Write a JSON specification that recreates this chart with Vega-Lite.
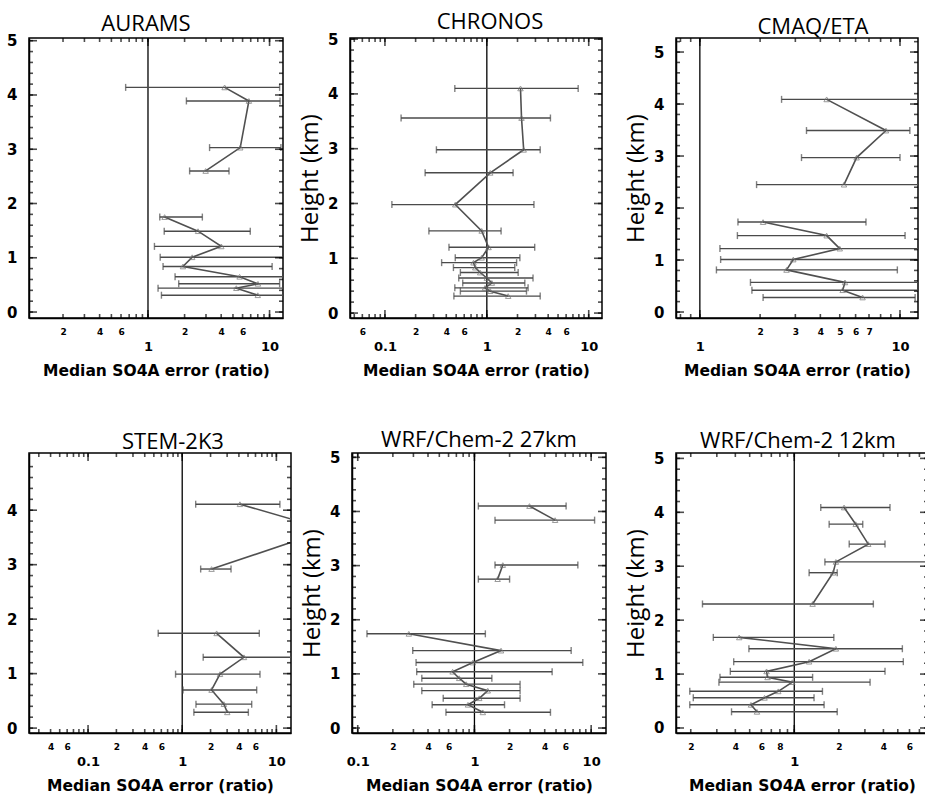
{
  "$schema": "https://vega.github.io/schema/vega-lite/v6.json",
  "padding": {"left": 5, "top": 10, "right": 0, "bottom": 0},
  "background": "white",
  "datasets": {
    "aurams": [
      {"h": 4.14, "med": 4.27, "lo": 0.655, "hi": 12.1, "seg": 1},
      {"h": 3.89, "med": 6.76, "lo": 2.07, "hi": 12.2, "seg": 1},
      {"h": 3.03, "med": 5.74, "lo": 3.21, "hi": 12.4, "seg": 1},
      {"h": 2.60, "med": 2.98, "lo": 2.20, "hi": 4.64, "seg": 1},
      {"h": 1.75, "med": 1.37, "lo": 1.25, "hi": 2.80, "seg": 2},
      {"h": 1.49, "med": 2.58, "lo": 1.36, "hi": 6.94, "seg": 2},
      {"h": 1.21, "med": 4.01, "lo": 1.13, "hi": 14, "seg": 2},
      {"h": 1.01, "med": 2.31, "lo": 1.26, "hi": 14, "seg": 2},
      {"h": 0.84, "med": 1.94, "lo": 1.33, "hi": 10.5, "seg": 2},
      {"h": 0.65, "med": 5.67, "lo": 1.67, "hi": 14, "seg": 2},
      {"h": 0.52, "med": 8.03, "lo": 1.79, "hi": 12.1, "seg": 2},
      {"h": 0.44, "med": 5.33, "lo": 1.21, "hi": 14, "seg": 2},
      {"h": 0.31, "med": 8.0, "lo": 1.29, "hi": 14, "seg": 2}
    ],
    "chronos": [
      {"h": 4.10, "med": 2.14, "lo": 0.485, "hi": 7.88, "seg": 1},
      {"h": 3.56, "med": 2.19, "lo": 0.144, "hi": 4.21, "seg": 1},
      {"h": 2.98, "med": 2.30, "lo": 0.32, "hi": 3.34, "seg": 1},
      {"h": 2.56, "med": 1.08, "lo": 0.248, "hi": 1.81, "seg": 1},
      {"h": 1.98, "med": 0.49, "lo": 0.117, "hi": 2.90, "seg": 1},
      {"h": 1.50, "med": 0.89, "lo": 0.27, "hi": 1.38, "seg": 1},
      {"h": 1.20, "med": 1.04, "lo": 0.425, "hi": 2.95, "seg": 1},
      {"h": 1.01, "med": 0.89, "lo": 0.49, "hi": 2.11, "seg": 1},
      {"h": 0.92, "med": 0.74, "lo": 0.36, "hi": 1.96, "seg": 1},
      {"h": 0.83, "med": 0.77, "lo": 0.47, "hi": 1.88, "seg": 1},
      {"h": 0.74, "med": 0.86, "lo": 0.55, "hi": 2.03, "seg": 1},
      {"h": 0.64, "med": 1.0, "lo": 0.53, "hi": 2.84, "seg": 1},
      {"h": 0.55, "med": 1.12, "lo": 0.58, "hi": 2.36, "seg": 1},
      {"h": 0.46, "med": 0.96, "lo": 0.485, "hi": 2.54, "seg": 1},
      {"h": 0.40, "med": 1.08, "lo": 0.55, "hi": 2.45, "seg": 1},
      {"h": 0.31, "med": 1.62, "lo": 0.475, "hi": 3.34, "seg": 1}
    ],
    "cmaq": [
      {"h": 4.09, "med": 4.30, "lo": 2.56, "hi": 13, "seg": 1},
      {"h": 3.49, "med": 8.51, "lo": 3.41, "hi": 11.2, "seg": 1},
      {"h": 2.97, "med": 6.07, "lo": 3.22, "hi": 10.0, "seg": 1},
      {"h": 2.45, "med": 5.25, "lo": 1.92, "hi": 13, "seg": 1},
      {"h": 1.73, "med": 2.07, "lo": 1.55, "hi": 6.76, "seg": 2},
      {"h": 1.47, "med": 4.30, "lo": 1.54, "hi": 10.6, "seg": 2},
      {"h": 1.22, "med": 5.0, "lo": 1.26, "hi": 13, "seg": 2},
      {"h": 1.01, "med": 2.93, "lo": 1.27, "hi": 13, "seg": 2},
      {"h": 0.81, "med": 2.71, "lo": 1.21, "hi": 9.7, "seg": 2},
      {"h": 0.57, "med": 5.31, "lo": 1.79, "hi": 13, "seg": 2},
      {"h": 0.42, "med": 5.17, "lo": 1.82, "hi": 13, "seg": 2},
      {"h": 0.28, "med": 6.5, "lo": 2.07, "hi": 11.9, "seg": 2}
    ],
    "stem": [
      {"h": 4.11, "med": 4.1, "lo": 1.39, "hi": 10.9, "seg": 1},
      {"h": 3.64, "med": 35.7, "lo": 20, "hi": 60, "seg": 1},
      {"h": 2.92, "med": 2.05, "lo": 1.57, "hi": 3.3, "seg": 1},
      {"h": 1.74, "med": 2.32, "lo": 0.556, "hi": 6.59, "seg": 2},
      {"h": 1.30, "med": 4.53, "lo": 1.67, "hi": 16, "seg": 2},
      {"h": 0.99, "med": 2.52, "lo": 0.85, "hi": 6.7, "seg": 2},
      {"h": 0.70, "med": 2.05, "lo": 1.02, "hi": 6.18, "seg": 2},
      {"h": 0.44, "med": 2.77, "lo": 1.4, "hi": 5.47, "seg": 2},
      {"h": 0.29, "med": 3.01, "lo": 1.33, "hi": 5.04, "seg": 2}
    ],
    "wrf27": [
      {"h": 4.10, "med": 2.96, "lo": 1.08, "hi": 6.1, "seg": 1},
      {"h": 3.84, "med": 4.91, "lo": 1.5, "hi": 10.7, "seg": 1},
      {"h": 3.01, "med": 1.75, "lo": 1.5, "hi": 7.69, "seg": 2},
      {"h": 2.75, "med": 1.58, "lo": 1.08, "hi": 2.0, "seg": 2},
      {"h": 1.74, "med": 0.274, "lo": 0.12, "hi": 1.24, "seg": 3},
      {"h": 1.43, "med": 1.69, "lo": 0.296, "hi": 6.74, "seg": 3},
      {"h": 1.21, "med": 0.97, "lo": 0.316, "hi": 8.48, "seg": 3},
      {"h": 1.04, "med": 0.65, "lo": 0.32, "hi": 4.63, "seg": 3},
      {"h": 0.92, "med": 0.74, "lo": 0.354, "hi": 1.41, "seg": 3},
      {"h": 0.81, "med": 0.85, "lo": 0.302, "hi": 2.46, "seg": 3},
      {"h": 0.69, "med": 1.3, "lo": 0.354, "hi": 2.46, "seg": 3},
      {"h": 0.55, "med": 1.1, "lo": 0.54, "hi": 2.46, "seg": 3},
      {"h": 0.43, "med": 0.88, "lo": 0.434, "hi": 1.81, "seg": 3},
      {"h": 0.29, "med": 1.18, "lo": 0.57, "hi": 4.48, "seg": 3}
    ],
    "wrf12": [
      {"h": 4.09, "med": 2.17, "lo": 1.51, "hi": 4.43, "seg": 1},
      {"h": 3.78, "med": 2.6, "lo": 1.72, "hi": 2.9, "seg": 1},
      {"h": 3.41, "med": 3.16, "lo": 2.35, "hi": 4.1, "seg": 1},
      {"h": 3.08, "med": 1.91, "lo": 1.61, "hi": 9, "seg": 1},
      {"h": 2.88, "med": 1.83, "lo": 1.26, "hi": 1.95, "seg": 1},
      {"h": 2.30, "med": 1.33, "lo": 0.24, "hi": 3.42, "seg": 1},
      {"h": 1.68, "med": 0.425, "lo": 0.284, "hi": 1.85, "seg": 2},
      {"h": 1.47, "med": 1.91, "lo": 0.494, "hi": 5.37, "seg": 2},
      {"h": 1.23, "med": 1.26, "lo": 0.39, "hi": 5.45, "seg": 2},
      {"h": 1.05, "med": 0.65, "lo": 0.37, "hi": 4.1, "seg": 2},
      {"h": 0.94, "med": 0.66, "lo": 0.315, "hi": 1.33, "seg": 2},
      {"h": 0.85, "med": 0.97, "lo": 0.31, "hi": 3.25, "seg": 2},
      {"h": 0.68, "med": 0.78, "lo": 0.197, "hi": 1.55, "seg": 2},
      {"h": 0.56, "med": 0.63, "lo": 0.208, "hi": 1.36, "seg": 2},
      {"h": 0.43, "med": 0.51, "lo": 0.197, "hi": 1.59, "seg": 2},
      {"h": 0.30, "med": 0.56, "lo": 0.377, "hi": 1.95, "seg": 2}
    ],
    "yt5": [{"t":0},{"t":0.2},{"t":0.4},{"t":0.6},{"t":0.8},{"t":1},{"t":1.2},{"t":1.4},{"t":1.6},{"t":1.8},{"t":2},{"t":2.2},{"t":2.4},{"t":2.6},{"t":2.8},{"t":3},{"t":3.2},{"t":3.4},{"t":3.6},{"t":3.8},{"t":4},{"t":4.2},{"t":4.4},{"t":4.6},{"t":4.8},{"t":5}],
    "yt52": [{"t":0},{"t":0.2},{"t":0.4},{"t":0.6},{"t":0.8},{"t":1},{"t":1.2},{"t":1.4},{"t":1.6},{"t":1.8},{"t":2},{"t":2.2},{"t":2.4},{"t":2.6},{"t":2.8},{"t":3},{"t":3.2},{"t":3.4},{"t":3.6},{"t":3.8},{"t":4},{"t":4.2},{"t":4.4},{"t":4.6},{"t":4.8},{"t":5},{"t":5.2}],
    "yt48": [{"t":0},{"t":0.2},{"t":0.4},{"t":0.6},{"t":0.8},{"t":1},{"t":1.2},{"t":1.4},{"t":1.6},{"t":1.8},{"t":2},{"t":2.2},{"t":2.4},{"t":2.6},{"t":2.8},{"t":3},{"t":3.2},{"t":3.4},{"t":3.6},{"t":3.8},{"t":4},{"t":4.2},{"t":4.4},{"t":4.6},{"t":4.8}],
    "ym5": [{"t":0},{"t":1},{"t":2},{"t":3},{"t":4},{"t":5}],
    "ym4": [{"t":0},{"t":1},{"t":2},{"t":3},{"t":4}],
    "xm_1_10": [{"t":1},{"t":10}],
    "xm_01_10": [{"t":0.1},{"t":1},{"t":10}],
    "xm_1": [{"t":1}],
    "xt_a": [{"t":0.2},{"t":0.3},{"t":0.4},{"t":0.5},{"t":0.6},{"t":0.7},{"t":0.8},{"t":0.9},{"t":1},{"t":2},{"t":3},{"t":4},{"t":5},{"t":6},{"t":7},{"t":8},{"t":9},{"t":10}],
    "xt_b": [{"t":0.05},{"t":0.06},{"t":0.07},{"t":0.08},{"t":0.09},{"t":0.1},{"t":0.2},{"t":0.3},{"t":0.4},{"t":0.5},{"t":0.6},{"t":0.7},{"t":0.8},{"t":0.9},{"t":1},{"t":2},{"t":3},{"t":4},{"t":5},{"t":6},{"t":7},{"t":8},{"t":9},{"t":10}],
    "xt_c": [{"t":0.8},{"t":0.9},{"t":1},{"t":2},{"t":3},{"t":4},{"t":5},{"t":6},{"t":7},{"t":8},{"t":9},{"t":10}],
    "xt_d": [{"t":0.03},{"t":0.04},{"t":0.05},{"t":0.06},{"t":0.07},{"t":0.08},{"t":0.09},{"t":0.1},{"t":0.2},{"t":0.3},{"t":0.4},{"t":0.5},{"t":0.6},{"t":0.7},{"t":0.8},{"t":0.9},{"t":1},{"t":2},{"t":3},{"t":4},{"t":5},{"t":6},{"t":7},{"t":8},{"t":9},{"t":10}],
    "xt_e": [{"t":0.09},{"t":0.1},{"t":0.2},{"t":0.3},{"t":0.4},{"t":0.5},{"t":0.6},{"t":0.7},{"t":0.8},{"t":0.9},{"t":1},{"t":2},{"t":3},{"t":4},{"t":5},{"t":6},{"t":7},{"t":8},{"t":9},{"t":10}],
    "xt_f": [{"t":0.2},{"t":0.3},{"t":0.4},{"t":0.5},{"t":0.6},{"t":0.7},{"t":0.8},{"t":0.9},{"t":1},{"t":2},{"t":3},{"t":4},{"t":5},{"t":6},{"t":7}]
  },
  "bounds": "full",
  "spacing": 48,
  "vconcat": [
    {
      "bounds": "flush",
      "spacing": 67,
      "hconcat": [
        {
          "title": {"text": "AURAMS", "dx": -10},
          "width": 254, "height": 280,
          "data": {"name": "aurams"},
          "layer": [
            {"data": {"values": [{}]}, "mark": {"type": "rule", "color": "black", "strokeWidth": 1.3},
             "encoding": {"x": {"datum": 1, "type": "quantitative", "scale": {"type": "log", "domain": [0.105, 12.9], "nice": false}, "axis": null}}},
            {"mark": {"type": "rule", "color": "#4a4a4a", "strokeWidth": 1.4, "clip": true},
             "encoding": {
               "x": {"field": "lo", "type": "quantitative", "scale": {"type": "log", "domain": [0.105, 12.9], "nice": false},
                     "axis": {"orient": "bottom", "values": [0.2,0.4,0.6,1,2,4,6,10], "ticks": false,
                              "labelExpr": "abs(log(datum.value)/LN10-round(log(datum.value)/LN10))<0.001 ? toString(datum.value) : toString(round(datum.value/pow(10,floor(log(datum.value)/LN10))))",
                              "labelFontSize": {"condition": {"test": "abs(log(datum.value)/LN10-round(log(datum.value)/LN10))<0.001", "value": 13}, "value": 9},
                              "labelPadding": {"condition": {"test": "abs(log(datum.value)/LN10-round(log(datum.value)/LN10))<0.001", "value": 22}, "value": 9},
                              "title": "Median SO4A error (ratio)"}},
               "x2": {"field": "hi"},
               "y": {"field": "h", "type": "quantitative", "scale": {"domain": [-0.11, 5.05], "nice": false, "zero": false},
                     "axis": {"orient": "left", "values": [0,1,2,3,4,5], "ticks": false, "labelPadding": 12, "labelFontSize": 15, "title": null}}
             }},
            {"mark": {"type": "tick", "orient": "vertical", "size": 7, "thickness": 1.4, "color": "#4a4a4a", "clip": true},
             "encoding": {"x": {"field": "lo", "type": "quantitative", "scale": {"type": "log", "domain": [0.105, 12.9], "nice": false}, "axis": null},
                          "y": {"field": "h", "type": "quantitative", "scale": {"domain": [-0.11, 5.05], "nice": false, "zero": false}, "axis": null}}},
            {"mark": {"type": "tick", "orient": "vertical", "size": 7, "thickness": 1.4, "color": "#4a4a4a", "clip": true},
             "encoding": {"x": {"field": "hi", "type": "quantitative", "scale": {"type": "log", "domain": [0.105, 12.9], "nice": false}, "axis": null},
                          "y": {"field": "h", "type": "quantitative", "scale": {"domain": [-0.11, 5.05], "nice": false, "zero": false}, "axis": null}}},
            {"mark": {"type": "line", "color": "#505050", "strokeWidth": 1.6, "clip": true},
             "encoding": {"x": {"field": "med", "type": "quantitative", "scale": {"type": "log", "domain": [0.105, 12.9], "nice": false}, "axis": null},
                          "y": {"field": "h", "type": "quantitative", "scale": {"domain": [-0.11, 5.05], "nice": false, "zero": false}, "axis": null},
                          "detail": {"field": "seg", "type": "nominal"}, "order": {"field": "h", "type": "quantitative"}}},
            {"mark": {"type": "point", "shape": "triangle-up", "filled": false, "size": 30, "color": "#707070", "strokeWidth": 1, "clip": true},
             "encoding": {"x": {"field": "med", "type": "quantitative", "scale": {"type": "log", "domain": [0.105, 12.9], "nice": false}, "axis": null},
                          "y": {"field": "h", "type": "quantitative", "scale": {"domain": [-0.11, 5.05], "nice": false, "zero": false}, "axis": null}}},
            {"data": {"name": "xt_a"}, "mark": {"type": "tick", "orient": "vertical", "size": 4, "thickness": 1.6, "color": "black", "yOffset": -2},
             "encoding": {"x": {"field": "t", "type": "quantitative", "scale": {"type": "log", "domain": [0.105, 12.9], "nice": false}, "axis": null},
                          "y": {"datum": -0.11, "type": "quantitative", "scale": {"domain": [-0.11, 5.05], "nice": false, "zero": false}, "axis": null}}},
            {"data": {"name": "xm_1_10"}, "mark": {"type": "tick", "orient": "vertical", "size": 8, "thickness": 1.6, "color": "black", "yOffset": -4},
             "encoding": {"x": {"field": "t", "type": "quantitative", "scale": {"type": "log", "domain": [0.105, 12.9], "nice": false}, "axis": null},
                          "y": {"datum": -0.11, "type": "quantitative", "scale": {"domain": [-0.11, 5.05], "nice": false, "zero": false}, "axis": null}}},
            {"data": {"name": "xt_a"}, "mark": {"type": "tick", "orient": "vertical", "size": 4, "thickness": 1.6, "color": "black", "yOffset": 2},
             "encoding": {"x": {"field": "t", "type": "quantitative", "scale": {"type": "log", "domain": [0.105, 12.9], "nice": false}, "axis": null},
                          "y": {"datum": 5.05, "type": "quantitative", "scale": {"domain": [-0.11, 5.05], "nice": false, "zero": false}, "axis": null}}},
            {"data": {"name": "xm_1_10"}, "mark": {"type": "tick", "orient": "vertical", "size": 8, "thickness": 1.6, "color": "black", "yOffset": 4},
             "encoding": {"x": {"field": "t", "type": "quantitative", "scale": {"type": "log", "domain": [0.105, 12.9], "nice": false}, "axis": null},
                          "y": {"datum": 5.05, "type": "quantitative", "scale": {"domain": [-0.11, 5.05], "nice": false, "zero": false}, "axis": null}}},
            {"data": {"name": "yt5"}, "mark": {"type": "tick", "orient": "horizontal", "size": 4, "thickness": 1.6, "color": "black", "xOffset": 2},
             "encoding": {"y": {"field": "t", "type": "quantitative", "scale": {"domain": [-0.11, 5.05], "nice": false, "zero": false}, "axis": null},
                          "x": {"datum": 0.105, "type": "quantitative", "scale": {"type": "log", "domain": [0.105, 12.9], "nice": false}, "axis": null}}},
            {"data": {"name": "ym5"}, "mark": {"type": "tick", "orient": "horizontal", "size": 8, "thickness": 1.6, "color": "black", "xOffset": 4},
             "encoding": {"y": {"field": "t", "type": "quantitative", "scale": {"domain": [-0.11, 5.05], "nice": false, "zero": false}, "axis": null},
                          "x": {"datum": 0.105, "type": "quantitative", "scale": {"type": "log", "domain": [0.105, 12.9], "nice": false}, "axis": null}}},
            {"data": {"name": "yt5"}, "mark": {"type": "tick", "orient": "horizontal", "size": 4, "thickness": 1.6, "color": "black", "xOffset": -2},
             "encoding": {"y": {"field": "t", "type": "quantitative", "scale": {"domain": [-0.11, 5.05], "nice": false, "zero": false}, "axis": null},
                          "x": {"datum": 12.9, "type": "quantitative", "scale": {"type": "log", "domain": [0.105, 12.9], "nice": false}, "axis": null}}},
            {"data": {"name": "ym5"}, "mark": {"type": "tick", "orient": "horizontal", "size": 8, "thickness": 1.6, "color": "black", "xOffset": -4},
             "encoding": {"y": {"field": "t", "type": "quantitative", "scale": {"domain": [-0.11, 5.05], "nice": false, "zero": false}, "axis": null},
                          "x": {"datum": 12.9, "type": "quantitative", "scale": {"type": "log", "domain": [0.105, 12.9], "nice": false}, "axis": null}}}
          ],
          "resolve": {"axis": {"x": "independent", "y": "independent"}}
        },
        {
          "bounds": "flush",
          "spacing": 74,
          "hconcat": [
            {
              "title": {"text": "CHRONOS", "dx": 14},
              "width": 252, "height": 280,
              "data": {"name": "chronos"},
              "layer": [
                {"data": {"values": [{}]}, "mark": {"type": "rule", "color": "black", "strokeWidth": 1.3},
                 "encoding": {"x": {"datum": 1, "type": "quantitative", "scale": {"type": "log", "domain": [0.0454, 13.5], "nice": false}, "axis": null}}},
                {"mark": {"type": "rule", "color": "#4a4a4a", "strokeWidth": 1.4, "clip": true},
                 "encoding": {
                   "x": {"field": "lo", "type": "quantitative", "scale": {"type": "log", "domain": [0.0454, 13.5], "nice": false},
                         "axis": {"orient": "bottom", "values": [0.06,0.1,0.2,0.4,0.6,1,2,4,6,10], "ticks": false,
                                  "labelExpr": "abs(log(datum.value)/LN10-round(log(datum.value)/LN10))<0.001 ? toString(datum.value) : toString(round(datum.value/pow(10,floor(log(datum.value)/LN10))))",
                                  "labelFontSize": {"condition": {"test": "abs(log(datum.value)/LN10-round(log(datum.value)/LN10))<0.001", "value": 13}, "value": 9},
                                  "labelPadding": {"condition": {"test": "abs(log(datum.value)/LN10-round(log(datum.value)/LN10))<0.001", "value": 22}, "value": 9},
                                  "title": "Median SO4A error (ratio)"}},
                   "x2": {"field": "hi"},
                   "y": {"field": "h", "type": "quantitative", "scale": {"domain": [-0.09, 5.02], "nice": false, "zero": false},
                         "axis": {"orient": "left", "values": [0,1,2,3,4,5], "ticks": false, "labelPadding": 12, "labelFontSize": 15, "title": "Height (km)"}}
                 }},
                {"mark": {"type": "tick", "orient": "vertical", "size": 7, "thickness": 1.4, "color": "#4a4a4a", "clip": true},
                 "encoding": {"x": {"field": "lo", "type": "quantitative", "scale": {"type": "log", "domain": [0.0454, 13.5], "nice": false}, "axis": null},
                              "y": {"field": "h", "type": "quantitative", "scale": {"domain": [-0.09, 5.02], "nice": false, "zero": false}, "axis": null}}},
                {"mark": {"type": "tick", "orient": "vertical", "size": 7, "thickness": 1.4, "color": "#4a4a4a", "clip": true},
                 "encoding": {"x": {"field": "hi", "type": "quantitative", "scale": {"type": "log", "domain": [0.0454, 13.5], "nice": false}, "axis": null},
                              "y": {"field": "h", "type": "quantitative", "scale": {"domain": [-0.09, 5.02], "nice": false, "zero": false}, "axis": null}}},
                {"mark": {"type": "line", "color": "#505050", "strokeWidth": 1.6, "clip": true},
                 "encoding": {"x": {"field": "med", "type": "quantitative", "scale": {"type": "log", "domain": [0.0454, 13.5], "nice": false}, "axis": null},
                              "y": {"field": "h", "type": "quantitative", "scale": {"domain": [-0.09, 5.02], "nice": false, "zero": false}, "axis": null},
                              "detail": {"field": "seg", "type": "nominal"}, "order": {"field": "h", "type": "quantitative"}}},
                {"mark": {"type": "point", "shape": "triangle-up", "filled": false, "size": 30, "color": "#707070", "strokeWidth": 1, "clip": true},
                 "encoding": {"x": {"field": "med", "type": "quantitative", "scale": {"type": "log", "domain": [0.0454, 13.5], "nice": false}, "axis": null},
                              "y": {"field": "h", "type": "quantitative", "scale": {"domain": [-0.09, 5.02], "nice": false, "zero": false}, "axis": null}}},
                {"data": {"name": "xt_b"}, "mark": {"type": "tick", "orient": "vertical", "size": 4, "thickness": 1.6, "color": "black", "yOffset": -2},
                 "encoding": {"x": {"field": "t", "type": "quantitative", "scale": {"type": "log", "domain": [0.0454, 13.5], "nice": false}, "axis": null},
                              "y": {"datum": -0.09, "type": "quantitative", "scale": {"domain": [-0.09, 5.02], "nice": false, "zero": false}, "axis": null}}},
                {"data": {"name": "xm_01_10"}, "mark": {"type": "tick", "orient": "vertical", "size": 8, "thickness": 1.6, "color": "black", "yOffset": -4},
                 "encoding": {"x": {"field": "t", "type": "quantitative", "scale": {"type": "log", "domain": [0.0454, 13.5], "nice": false}, "axis": null},
                              "y": {"datum": -0.09, "type": "quantitative", "scale": {"domain": [-0.09, 5.02], "nice": false, "zero": false}, "axis": null}}},
                {"data": {"name": "xt_b"}, "mark": {"type": "tick", "orient": "vertical", "size": 4, "thickness": 1.6, "color": "black", "yOffset": 2},
                 "encoding": {"x": {"field": "t", "type": "quantitative", "scale": {"type": "log", "domain": [0.0454, 13.5], "nice": false}, "axis": null},
                              "y": {"datum": 5.02, "type": "quantitative", "scale": {"domain": [-0.09, 5.02], "nice": false, "zero": false}, "axis": null}}},
                {"data": {"name": "xm_01_10"}, "mark": {"type": "tick", "orient": "vertical", "size": 8, "thickness": 1.6, "color": "black", "yOffset": 4},
                 "encoding": {"x": {"field": "t", "type": "quantitative", "scale": {"type": "log", "domain": [0.0454, 13.5], "nice": false}, "axis": null},
                              "y": {"datum": 5.02, "type": "quantitative", "scale": {"domain": [-0.09, 5.02], "nice": false, "zero": false}, "axis": null}}},
                {"data": {"name": "yt5"}, "mark": {"type": "tick", "orient": "horizontal", "size": 4, "thickness": 1.6, "color": "black", "xOffset": 2},
                 "encoding": {"y": {"field": "t", "type": "quantitative", "scale": {"domain": [-0.09, 5.02], "nice": false, "zero": false}, "axis": null},
                              "x": {"datum": 0.0454, "type": "quantitative", "scale": {"type": "log", "domain": [0.0454, 13.5], "nice": false}, "axis": null}}},
                {"data": {"name": "ym5"}, "mark": {"type": "tick", "orient": "horizontal", "size": 8, "thickness": 1.6, "color": "black", "xOffset": 4},
                 "encoding": {"y": {"field": "t", "type": "quantitative", "scale": {"domain": [-0.09, 5.02], "nice": false, "zero": false}, "axis": null},
                              "x": {"datum": 0.0454, "type": "quantitative", "scale": {"type": "log", "domain": [0.0454, 13.5], "nice": false}, "axis": null}}},
                {"data": {"name": "yt5"}, "mark": {"type": "tick", "orient": "horizontal", "size": 4, "thickness": 1.6, "color": "black", "xOffset": -2},
                 "encoding": {"y": {"field": "t", "type": "quantitative", "scale": {"domain": [-0.09, 5.02], "nice": false, "zero": false}, "axis": null},
                              "x": {"datum": 13.5, "type": "quantitative", "scale": {"type": "log", "domain": [0.0454, 13.5], "nice": false}, "axis": null}}},
                {"data": {"name": "ym5"}, "mark": {"type": "tick", "orient": "horizontal", "size": 8, "thickness": 1.6, "color": "black", "xOffset": -4},
                 "encoding": {"y": {"field": "t", "type": "quantitative", "scale": {"domain": [-0.09, 5.02], "nice": false, "zero": false}, "axis": null},
                              "x": {"datum": 13.5, "type": "quantitative", "scale": {"type": "log", "domain": [0.0454, 13.5], "nice": false}, "axis": null}}}
              ],
              "resolve": {"axis": {"x": "independent", "y": "independent"}}
            },
            {
              "title": {"text": "CMAQ/ETA", "dx": 16},
              "width": 242, "height": 280,
              "data": {"name": "cmaq"},
              "layer": [
                {"data": {"values": [{}]}, "mark": {"type": "rule", "color": "black", "strokeWidth": 1.3},
                 "encoding": {"x": {"datum": 1, "type": "quantitative", "scale": {"type": "log", "domain": [0.76, 12.3], "nice": false}, "axis": null}}},
                {"mark": {"type": "rule", "color": "#4a4a4a", "strokeWidth": 1.4, "clip": true},
                 "encoding": {
                   "x": {"field": "lo", "type": "quantitative", "scale": {"type": "log", "domain": [0.76, 12.3], "nice": false},
                         "axis": {"orient": "bottom", "values": [1,2,3,4,5,6,7,10], "ticks": false,
                                  "labelExpr": "toString(datum.value)",
                                  "labelFontSize": {"condition": {"test": "abs(log(datum.value)/LN10-round(log(datum.value)/LN10))<0.001", "value": 13}, "value": 9},
                                  "labelPadding": {"condition": {"test": "abs(log(datum.value)/LN10-round(log(datum.value)/LN10))<0.001", "value": 22}, "value": 9},
                                  "title": "Median SO4A error (ratio)"}},
                   "x2": {"field": "hi"},
                   "y": {"field": "h", "type": "quantitative", "scale": {"domain": [-0.115, 5.27], "nice": false, "zero": false},
                         "axis": {"orient": "left", "values": [0,1,2,3,4,5], "ticks": false, "labelPadding": 12, "labelFontSize": 15, "title": "Height (km)"}}
                 }},
                {"mark": {"type": "tick", "orient": "vertical", "size": 7, "thickness": 1.4, "color": "#4a4a4a", "clip": true},
                 "encoding": {"x": {"field": "lo", "type": "quantitative", "scale": {"type": "log", "domain": [0.76, 12.3], "nice": false}, "axis": null},
                              "y": {"field": "h", "type": "quantitative", "scale": {"domain": [-0.115, 5.27], "nice": false, "zero": false}, "axis": null}}},
                {"mark": {"type": "tick", "orient": "vertical", "size": 7, "thickness": 1.4, "color": "#4a4a4a", "clip": true},
                 "encoding": {"x": {"field": "hi", "type": "quantitative", "scale": {"type": "log", "domain": [0.76, 12.3], "nice": false}, "axis": null},
                              "y": {"field": "h", "type": "quantitative", "scale": {"domain": [-0.115, 5.27], "nice": false, "zero": false}, "axis": null}}},
                {"mark": {"type": "line", "color": "#505050", "strokeWidth": 1.6, "clip": true},
                 "encoding": {"x": {"field": "med", "type": "quantitative", "scale": {"type": "log", "domain": [0.76, 12.3], "nice": false}, "axis": null},
                              "y": {"field": "h", "type": "quantitative", "scale": {"domain": [-0.115, 5.27], "nice": false, "zero": false}, "axis": null},
                              "detail": {"field": "seg", "type": "nominal"}, "order": {"field": "h", "type": "quantitative"}}},
                {"mark": {"type": "point", "shape": "triangle-up", "filled": false, "size": 30, "color": "#707070", "strokeWidth": 1, "clip": true},
                 "encoding": {"x": {"field": "med", "type": "quantitative", "scale": {"type": "log", "domain": [0.76, 12.3], "nice": false}, "axis": null},
                              "y": {"field": "h", "type": "quantitative", "scale": {"domain": [-0.115, 5.27], "nice": false, "zero": false}, "axis": null}}},
                {"data": {"name": "xt_c"}, "mark": {"type": "tick", "orient": "vertical", "size": 4, "thickness": 1.6, "color": "black", "yOffset": -2},
                 "encoding": {"x": {"field": "t", "type": "quantitative", "scale": {"type": "log", "domain": [0.76, 12.3], "nice": false}, "axis": null},
                              "y": {"datum": -0.115, "type": "quantitative", "scale": {"domain": [-0.115, 5.27], "nice": false, "zero": false}, "axis": null}}},
                {"data": {"name": "xm_1_10"}, "mark": {"type": "tick", "orient": "vertical", "size": 8, "thickness": 1.6, "color": "black", "yOffset": -4},
                 "encoding": {"x": {"field": "t", "type": "quantitative", "scale": {"type": "log", "domain": [0.76, 12.3], "nice": false}, "axis": null},
                              "y": {"datum": -0.115, "type": "quantitative", "scale": {"domain": [-0.115, 5.27], "nice": false, "zero": false}, "axis": null}}},
                {"data": {"name": "xt_c"}, "mark": {"type": "tick", "orient": "vertical", "size": 4, "thickness": 1.6, "color": "black", "yOffset": 2},
                 "encoding": {"x": {"field": "t", "type": "quantitative", "scale": {"type": "log", "domain": [0.76, 12.3], "nice": false}, "axis": null},
                              "y": {"datum": 5.27, "type": "quantitative", "scale": {"domain": [-0.115, 5.27], "nice": false, "zero": false}, "axis": null}}},
                {"data": {"name": "xm_1_10"}, "mark": {"type": "tick", "orient": "vertical", "size": 8, "thickness": 1.6, "color": "black", "yOffset": 4},
                 "encoding": {"x": {"field": "t", "type": "quantitative", "scale": {"type": "log", "domain": [0.76, 12.3], "nice": false}, "axis": null},
                              "y": {"datum": 5.27, "type": "quantitative", "scale": {"domain": [-0.115, 5.27], "nice": false, "zero": false}, "axis": null}}},
                {"data": {"name": "yt52"}, "mark": {"type": "tick", "orient": "horizontal", "size": 4, "thickness": 1.6, "color": "black", "xOffset": 2},
                 "encoding": {"y": {"field": "t", "type": "quantitative", "scale": {"domain": [-0.115, 5.27], "nice": false, "zero": false}, "axis": null},
                              "x": {"datum": 0.76, "type": "quantitative", "scale": {"type": "log", "domain": [0.76, 12.3], "nice": false}, "axis": null}}},
                {"data": {"name": "ym5"}, "mark": {"type": "tick", "orient": "horizontal", "size": 8, "thickness": 1.6, "color": "black", "xOffset": 4},
                 "encoding": {"y": {"field": "t", "type": "quantitative", "scale": {"domain": [-0.115, 5.27], "nice": false, "zero": false}, "axis": null},
                              "x": {"datum": 0.76, "type": "quantitative", "scale": {"type": "log", "domain": [0.76, 12.3], "nice": false}, "axis": null}}},
                {"data": {"name": "yt52"}, "mark": {"type": "tick", "orient": "horizontal", "size": 4, "thickness": 1.6, "color": "black", "xOffset": -2},
                 "encoding": {"y": {"field": "t", "type": "quantitative", "scale": {"domain": [-0.115, 5.27], "nice": false, "zero": false}, "axis": null},
                              "x": {"datum": 12.3, "type": "quantitative", "scale": {"type": "log", "domain": [0.76, 12.3], "nice": false}, "axis": null}}},
                {"data": {"name": "ym5"}, "mark": {"type": "tick", "orient": "horizontal", "size": 8, "thickness": 1.6, "color": "black", "xOffset": -4},
                 "encoding": {"y": {"field": "t", "type": "quantitative", "scale": {"domain": [-0.115, 5.27], "nice": false, "zero": false}, "axis": null},
                              "x": {"datum": 12.3, "type": "quantitative", "scale": {"type": "log", "domain": [0.76, 12.3], "nice": false}, "axis": null}}}
              ],
              "resolve": {"axis": {"x": "independent", "y": "independent"}}
            }
          ]
        }
      ]
    },
    {
      "bounds": "flush",
      "spacing": 61,
      "hconcat": [
        {
          "title": {"text": "STEM-2K3", "dx": 13},
          "width": 262, "height": 280,
          "data": {"name": "stem"},
          "layer": [
            {"data": {"values": [{}]}, "mark": {"type": "rule", "color": "black", "strokeWidth": 1.3},
             "encoding": {"x": {"datum": 1, "type": "quantitative", "scale": {"type": "log", "domain": [0.0236, 14.3], "nice": false}, "axis": null}}},
            {"mark": {"type": "rule", "color": "#4a4a4a", "strokeWidth": 1.4, "clip": true},
             "encoding": {
               "x": {"field": "lo", "type": "quantitative", "scale": {"type": "log", "domain": [0.0236, 14.3], "nice": false},
                     "axis": {"orient": "bottom", "values": [0.04,0.06,0.1,0.2,0.4,0.6,1,2,4,6,10], "ticks": false,
                              "labelExpr": "abs(log(datum.value)/LN10-round(log(datum.value)/LN10))<0.001 ? toString(datum.value) : toString(round(datum.value/pow(10,floor(log(datum.value)/LN10))))",
                              "labelFontSize": {"condition": {"test": "abs(log(datum.value)/LN10-round(log(datum.value)/LN10))<0.001", "value": 13}, "value": 9},
                              "labelPadding": {"condition": {"test": "abs(log(datum.value)/LN10-round(log(datum.value)/LN10))<0.001", "value": 22}, "value": 9},
                              "title": "Median SO4A error (ratio)"}},
               "x2": {"field": "hi"},
               "y": {"field": "h", "type": "quantitative", "scale": {"domain": [-0.09, 5.05], "nice": false, "zero": false},
                     "axis": {"orient": "left", "values": [0,1,2,3,4], "ticks": false, "labelPadding": 12, "labelFontSize": 15, "title": null}}
             }},
            {"mark": {"type": "tick", "orient": "vertical", "size": 7, "thickness": 1.4, "color": "#4a4a4a", "clip": true},
             "encoding": {"x": {"field": "lo", "type": "quantitative", "scale": {"type": "log", "domain": [0.0236, 14.3], "nice": false}, "axis": null},
                          "y": {"field": "h", "type": "quantitative", "scale": {"domain": [-0.09, 5.05], "nice": false, "zero": false}, "axis": null}}},
            {"mark": {"type": "tick", "orient": "vertical", "size": 7, "thickness": 1.4, "color": "#4a4a4a", "clip": true},
             "encoding": {"x": {"field": "hi", "type": "quantitative", "scale": {"type": "log", "domain": [0.0236, 14.3], "nice": false}, "axis": null},
                          "y": {"field": "h", "type": "quantitative", "scale": {"domain": [-0.09, 5.05], "nice": false, "zero": false}, "axis": null}}},
            {"mark": {"type": "line", "color": "#505050", "strokeWidth": 1.6, "clip": true},
             "encoding": {"x": {"field": "med", "type": "quantitative", "scale": {"type": "log", "domain": [0.0236, 14.3], "nice": false}, "axis": null},
                          "y": {"field": "h", "type": "quantitative", "scale": {"domain": [-0.09, 5.05], "nice": false, "zero": false}, "axis": null},
                          "detail": {"field": "seg", "type": "nominal"}, "order": {"field": "h", "type": "quantitative"}}},
            {"mark": {"type": "point", "shape": "triangle-up", "filled": false, "size": 30, "color": "#707070", "strokeWidth": 1, "clip": true},
             "encoding": {"x": {"field": "med", "type": "quantitative", "scale": {"type": "log", "domain": [0.0236, 14.3], "nice": false}, "axis": null},
                          "y": {"field": "h", "type": "quantitative", "scale": {"domain": [-0.09, 5.05], "nice": false, "zero": false}, "axis": null}}},
            {"data": {"name": "xt_d"}, "mark": {"type": "tick", "orient": "vertical", "size": 4, "thickness": 1.6, "color": "black", "yOffset": -2},
             "encoding": {"x": {"field": "t", "type": "quantitative", "scale": {"type": "log", "domain": [0.0236, 14.3], "nice": false}, "axis": null},
                          "y": {"datum": -0.09, "type": "quantitative", "scale": {"domain": [-0.09, 5.05], "nice": false, "zero": false}, "axis": null}}},
            {"data": {"name": "xm_01_10"}, "mark": {"type": "tick", "orient": "vertical", "size": 8, "thickness": 1.6, "color": "black", "yOffset": -4},
             "encoding": {"x": {"field": "t", "type": "quantitative", "scale": {"type": "log", "domain": [0.0236, 14.3], "nice": false}, "axis": null},
                          "y": {"datum": -0.09, "type": "quantitative", "scale": {"domain": [-0.09, 5.05], "nice": false, "zero": false}, "axis": null}}},
            {"data": {"name": "xt_d"}, "mark": {"type": "tick", "orient": "vertical", "size": 4, "thickness": 1.6, "color": "black", "yOffset": 2},
             "encoding": {"x": {"field": "t", "type": "quantitative", "scale": {"type": "log", "domain": [0.0236, 14.3], "nice": false}, "axis": null},
                          "y": {"datum": 5.05, "type": "quantitative", "scale": {"domain": [-0.09, 5.05], "nice": false, "zero": false}, "axis": null}}},
            {"data": {"name": "xm_01_10"}, "mark": {"type": "tick", "orient": "vertical", "size": 8, "thickness": 1.6, "color": "black", "yOffset": 4},
             "encoding": {"x": {"field": "t", "type": "quantitative", "scale": {"type": "log", "domain": [0.0236, 14.3], "nice": false}, "axis": null},
                          "y": {"datum": 5.05, "type": "quantitative", "scale": {"domain": [-0.09, 5.05], "nice": false, "zero": false}, "axis": null}}},
            {"data": {"name": "yt48"}, "mark": {"type": "tick", "orient": "horizontal", "size": 4, "thickness": 1.6, "color": "black", "xOffset": 2},
             "encoding": {"y": {"field": "t", "type": "quantitative", "scale": {"domain": [-0.09, 5.05], "nice": false, "zero": false}, "axis": null},
                          "x": {"datum": 0.0236, "type": "quantitative", "scale": {"type": "log", "domain": [0.0236, 14.3], "nice": false}, "axis": null}}},
            {"data": {"name": "ym4"}, "mark": {"type": "tick", "orient": "horizontal", "size": 8, "thickness": 1.6, "color": "black", "xOffset": 4},
             "encoding": {"y": {"field": "t", "type": "quantitative", "scale": {"domain": [-0.09, 5.05], "nice": false, "zero": false}, "axis": null},
                          "x": {"datum": 0.0236, "type": "quantitative", "scale": {"type": "log", "domain": [0.0236, 14.3], "nice": false}, "axis": null}}},
            {"data": {"name": "yt48"}, "mark": {"type": "tick", "orient": "horizontal", "size": 4, "thickness": 1.6, "color": "black", "xOffset": -2},
             "encoding": {"y": {"field": "t", "type": "quantitative", "scale": {"domain": [-0.09, 5.05], "nice": false, "zero": false}, "axis": null},
                          "x": {"datum": 14.3, "type": "quantitative", "scale": {"type": "log", "domain": [0.0236, 14.3], "nice": false}, "axis": null}}},
            {"data": {"name": "ym4"}, "mark": {"type": "tick", "orient": "horizontal", "size": 8, "thickness": 1.6, "color": "black", "xOffset": -4},
             "encoding": {"y": {"field": "t", "type": "quantitative", "scale": {"domain": [-0.09, 5.05], "nice": false, "zero": false}, "axis": null},
                          "x": {"datum": 14.3, "type": "quantitative", "scale": {"type": "log", "domain": [0.0236, 14.3], "nice": false}, "axis": null}}}
          ],
          "resolve": {"axis": {"x": "independent", "y": "independent"}}
        },
        {
          "bounds": "flush",
          "spacing": 70,
          "hconcat": [
            {
              "title": {"text": "WRF/Chem-2 27km", "dx": 0},
              "width": 254, "height": 280,
              "data": {"name": "wrf27"},
              "layer": [
                {"data": {"values": [{}]}, "mark": {"type": "rule", "color": "black", "strokeWidth": 1.3},
                 "encoding": {"x": {"datum": 1, "type": "quantitative", "scale": {"type": "log", "domain": [0.0893, 13.4], "nice": false}, "axis": null}}},
                {"mark": {"type": "rule", "color": "#4a4a4a", "strokeWidth": 1.4, "clip": true},
                 "encoding": {
                   "x": {"field": "lo", "type": "quantitative", "scale": {"type": "log", "domain": [0.0893, 13.4], "nice": false},
                         "axis": {"orient": "bottom", "values": [0.1,0.2,0.4,0.6,1,2,4,6,10], "ticks": false,
                                  "labelExpr": "abs(log(datum.value)/LN10-round(log(datum.value)/LN10))<0.001 ? toString(datum.value) : toString(round(datum.value/pow(10,floor(log(datum.value)/LN10))))",
                                  "labelFontSize": {"condition": {"test": "abs(log(datum.value)/LN10-round(log(datum.value)/LN10))<0.001", "value": 13}, "value": 9},
                                  "labelPadding": {"condition": {"test": "abs(log(datum.value)/LN10-round(log(datum.value)/LN10))<0.001", "value": 22}, "value": 9},
                                  "title": "Median SO4A error (ratio)"}},
                   "x2": {"field": "hi"},
                   "y": {"field": "h", "type": "quantitative", "scale": {"domain": [-0.092, 5.08], "nice": false, "zero": false},
                         "axis": {"orient": "left", "values": [0,1,2,3,4,5], "ticks": false, "labelPadding": 12, "labelFontSize": 15, "title": "Height (km)"}}
                 }},
                {"mark": {"type": "tick", "orient": "vertical", "size": 7, "thickness": 1.4, "color": "#4a4a4a", "clip": true},
                 "encoding": {"x": {"field": "lo", "type": "quantitative", "scale": {"type": "log", "domain": [0.0893, 13.4], "nice": false}, "axis": null},
                              "y": {"field": "h", "type": "quantitative", "scale": {"domain": [-0.092, 5.08], "nice": false, "zero": false}, "axis": null}}},
                {"mark": {"type": "tick", "orient": "vertical", "size": 7, "thickness": 1.4, "color": "#4a4a4a", "clip": true},
                 "encoding": {"x": {"field": "hi", "type": "quantitative", "scale": {"type": "log", "domain": [0.0893, 13.4], "nice": false}, "axis": null},
                              "y": {"field": "h", "type": "quantitative", "scale": {"domain": [-0.092, 5.08], "nice": false, "zero": false}, "axis": null}}},
                {"mark": {"type": "line", "color": "#505050", "strokeWidth": 1.6, "clip": true},
                 "encoding": {"x": {"field": "med", "type": "quantitative", "scale": {"type": "log", "domain": [0.0893, 13.4], "nice": false}, "axis": null},
                              "y": {"field": "h", "type": "quantitative", "scale": {"domain": [-0.092, 5.08], "nice": false, "zero": false}, "axis": null},
                              "detail": {"field": "seg", "type": "nominal"}, "order": {"field": "h", "type": "quantitative"}}},
                {"mark": {"type": "point", "shape": "triangle-up", "filled": false, "size": 30, "color": "#707070", "strokeWidth": 1, "clip": true},
                 "encoding": {"x": {"field": "med", "type": "quantitative", "scale": {"type": "log", "domain": [0.0893, 13.4], "nice": false}, "axis": null},
                              "y": {"field": "h", "type": "quantitative", "scale": {"domain": [-0.092, 5.08], "nice": false, "zero": false}, "axis": null}}},
                {"data": {"name": "xt_e"}, "mark": {"type": "tick", "orient": "vertical", "size": 4, "thickness": 1.6, "color": "black", "yOffset": -2},
                 "encoding": {"x": {"field": "t", "type": "quantitative", "scale": {"type": "log", "domain": [0.0893, 13.4], "nice": false}, "axis": null},
                              "y": {"datum": -0.092, "type": "quantitative", "scale": {"domain": [-0.092, 5.08], "nice": false, "zero": false}, "axis": null}}},
                {"data": {"name": "xm_01_10"}, "mark": {"type": "tick", "orient": "vertical", "size": 8, "thickness": 1.6, "color": "black", "yOffset": -4},
                 "encoding": {"x": {"field": "t", "type": "quantitative", "scale": {"type": "log", "domain": [0.0893, 13.4], "nice": false}, "axis": null},
                              "y": {"datum": -0.092, "type": "quantitative", "scale": {"domain": [-0.092, 5.08], "nice": false, "zero": false}, "axis": null}}},
                {"data": {"name": "xt_e"}, "mark": {"type": "tick", "orient": "vertical", "size": 4, "thickness": 1.6, "color": "black", "yOffset": 2},
                 "encoding": {"x": {"field": "t", "type": "quantitative", "scale": {"type": "log", "domain": [0.0893, 13.4], "nice": false}, "axis": null},
                              "y": {"datum": 5.08, "type": "quantitative", "scale": {"domain": [-0.092, 5.08], "nice": false, "zero": false}, "axis": null}}},
                {"data": {"name": "xm_01_10"}, "mark": {"type": "tick", "orient": "vertical", "size": 8, "thickness": 1.6, "color": "black", "yOffset": 4},
                 "encoding": {"x": {"field": "t", "type": "quantitative", "scale": {"type": "log", "domain": [0.0893, 13.4], "nice": false}, "axis": null},
                              "y": {"datum": 5.08, "type": "quantitative", "scale": {"domain": [-0.092, 5.08], "nice": false, "zero": false}, "axis": null}}},
                {"data": {"name": "yt5"}, "mark": {"type": "tick", "orient": "horizontal", "size": 4, "thickness": 1.6, "color": "black", "xOffset": 2},
                 "encoding": {"y": {"field": "t", "type": "quantitative", "scale": {"domain": [-0.092, 5.08], "nice": false, "zero": false}, "axis": null},
                              "x": {"datum": 0.0893, "type": "quantitative", "scale": {"type": "log", "domain": [0.0893, 13.4], "nice": false}, "axis": null}}},
                {"data": {"name": "ym5"}, "mark": {"type": "tick", "orient": "horizontal", "size": 8, "thickness": 1.6, "color": "black", "xOffset": 4},
                 "encoding": {"y": {"field": "t", "type": "quantitative", "scale": {"domain": [-0.092, 5.08], "nice": false, "zero": false}, "axis": null},
                              "x": {"datum": 0.0893, "type": "quantitative", "scale": {"type": "log", "domain": [0.0893, 13.4], "nice": false}, "axis": null}}},
                {"data": {"name": "yt5"}, "mark": {"type": "tick", "orient": "horizontal", "size": 4, "thickness": 1.6, "color": "black", "xOffset": -2},
                 "encoding": {"y": {"field": "t", "type": "quantitative", "scale": {"domain": [-0.092, 5.08], "nice": false, "zero": false}, "axis": null},
                              "x": {"datum": 13.4, "type": "quantitative", "scale": {"type": "log", "domain": [0.0893, 13.4], "nice": false}, "axis": null}}},
                {"data": {"name": "ym5"}, "mark": {"type": "tick", "orient": "horizontal", "size": 8, "thickness": 1.6, "color": "black", "xOffset": -4},
                 "encoding": {"y": {"field": "t", "type": "quantitative", "scale": {"domain": [-0.092, 5.08], "nice": false, "zero": false}, "axis": null},
                              "x": {"datum": 13.4, "type": "quantitative", "scale": {"type": "log", "domain": [0.0893, 13.4], "nice": false}, "axis": null}}}
              ],
              "resolve": {"axis": {"x": "independent", "y": "independent"}}
            },
            {
              "title": {"text": "WRF/Chem-2 12km", "dx": -4},
              "width": 252, "height": 280,
              "data": {"name": "wrf12"},
              "layer": [
                {"data": {"values": [{}]}, "mark": {"type": "rule", "color": "black", "strokeWidth": 1.3},
                 "encoding": {"x": {"datum": 1, "type": "quantitative", "scale": {"type": "log", "domain": [0.159, 8.0], "nice": false}, "axis": null}}},
                {"mark": {"type": "rule", "color": "#4a4a4a", "strokeWidth": 1.4, "clip": true},
                 "encoding": {
                   "x": {"field": "lo", "type": "quantitative", "scale": {"type": "log", "domain": [0.159, 8.0], "nice": false},
                         "axis": {"orient": "bottom", "values": [0.2,0.4,0.6,0.8,1,2,4,6], "ticks": false,
                                  "labelExpr": "abs(log(datum.value)/LN10-round(log(datum.value)/LN10))<0.001 ? toString(datum.value) : toString(round(datum.value/pow(10,floor(log(datum.value)/LN10))))",
                                  "labelFontSize": {"condition": {"test": "abs(log(datum.value)/LN10-round(log(datum.value)/LN10))<0.001", "value": 13}, "value": 9},
                                  "labelPadding": {"condition": {"test": "abs(log(datum.value)/LN10-round(log(datum.value)/LN10))<0.001", "value": 22}, "value": 9},
                                  "title": "Median SO4A error (ratio)"}},
                   "x2": {"field": "hi"},
                   "y": {"field": "h", "type": "quantitative", "scale": {"domain": [-0.093, 5.1], "nice": false, "zero": false},
                         "axis": {"orient": "left", "values": [0,1,2,3,4,5], "ticks": false, "labelPadding": 12, "labelFontSize": 15, "title": "Height (km)"}}
                 }},
                {"mark": {"type": "tick", "orient": "vertical", "size": 7, "thickness": 1.4, "color": "#4a4a4a", "clip": true},
                 "encoding": {"x": {"field": "lo", "type": "quantitative", "scale": {"type": "log", "domain": [0.159, 8.0], "nice": false}, "axis": null},
                              "y": {"field": "h", "type": "quantitative", "scale": {"domain": [-0.093, 5.1], "nice": false, "zero": false}, "axis": null}}},
                {"mark": {"type": "tick", "orient": "vertical", "size": 7, "thickness": 1.4, "color": "#4a4a4a", "clip": true},
                 "encoding": {"x": {"field": "hi", "type": "quantitative", "scale": {"type": "log", "domain": [0.159, 8.0], "nice": false}, "axis": null},
                              "y": {"field": "h", "type": "quantitative", "scale": {"domain": [-0.093, 5.1], "nice": false, "zero": false}, "axis": null}}},
                {"mark": {"type": "line", "color": "#505050", "strokeWidth": 1.6, "clip": true},
                 "encoding": {"x": {"field": "med", "type": "quantitative", "scale": {"type": "log", "domain": [0.159, 8.0], "nice": false}, "axis": null},
                              "y": {"field": "h", "type": "quantitative", "scale": {"domain": [-0.093, 5.1], "nice": false, "zero": false}, "axis": null},
                              "detail": {"field": "seg", "type": "nominal"}, "order": {"field": "h", "type": "quantitative"}}},
                {"mark": {"type": "point", "shape": "triangle-up", "filled": false, "size": 30, "color": "#707070", "strokeWidth": 1, "clip": true},
                 "encoding": {"x": {"field": "med", "type": "quantitative", "scale": {"type": "log", "domain": [0.159, 8.0], "nice": false}, "axis": null},
                              "y": {"field": "h", "type": "quantitative", "scale": {"domain": [-0.093, 5.1], "nice": false, "zero": false}, "axis": null}}},
                {"data": {"name": "xt_f"}, "mark": {"type": "tick", "orient": "vertical", "size": 4, "thickness": 1.6, "color": "black", "yOffset": -2},
                 "encoding": {"x": {"field": "t", "type": "quantitative", "scale": {"type": "log", "domain": [0.159, 8.0], "nice": false}, "axis": null},
                              "y": {"datum": -0.093, "type": "quantitative", "scale": {"domain": [-0.093, 5.1], "nice": false, "zero": false}, "axis": null}}},
                {"data": {"name": "xm_1"}, "mark": {"type": "tick", "orient": "vertical", "size": 8, "thickness": 1.6, "color": "black", "yOffset": -4},
                 "encoding": {"x": {"field": "t", "type": "quantitative", "scale": {"type": "log", "domain": [0.159, 8.0], "nice": false}, "axis": null},
                              "y": {"datum": -0.093, "type": "quantitative", "scale": {"domain": [-0.093, 5.1], "nice": false, "zero": false}, "axis": null}}},
                {"data": {"name": "xt_f"}, "mark": {"type": "tick", "orient": "vertical", "size": 4, "thickness": 1.6, "color": "black", "yOffset": 2},
                 "encoding": {"x": {"field": "t", "type": "quantitative", "scale": {"type": "log", "domain": [0.159, 8.0], "nice": false}, "axis": null},
                              "y": {"datum": 5.1, "type": "quantitative", "scale": {"domain": [-0.093, 5.1], "nice": false, "zero": false}, "axis": null}}},
                {"data": {"name": "xm_1"}, "mark": {"type": "tick", "orient": "vertical", "size": 8, "thickness": 1.6, "color": "black", "yOffset": 4},
                 "encoding": {"x": {"field": "t", "type": "quantitative", "scale": {"type": "log", "domain": [0.159, 8.0], "nice": false}, "axis": null},
                              "y": {"datum": 5.1, "type": "quantitative", "scale": {"domain": [-0.093, 5.1], "nice": false, "zero": false}, "axis": null}}},
                {"data": {"name": "yt5"}, "mark": {"type": "tick", "orient": "horizontal", "size": 4, "thickness": 1.6, "color": "black", "xOffset": 2},
                 "encoding": {"y": {"field": "t", "type": "quantitative", "scale": {"domain": [-0.093, 5.1], "nice": false, "zero": false}, "axis": null},
                              "x": {"datum": 0.159, "type": "quantitative", "scale": {"type": "log", "domain": [0.159, 8.0], "nice": false}, "axis": null}}},
                {"data": {"name": "ym5"}, "mark": {"type": "tick", "orient": "horizontal", "size": 8, "thickness": 1.6, "color": "black", "xOffset": 4},
                 "encoding": {"y": {"field": "t", "type": "quantitative", "scale": {"domain": [-0.093, 5.1], "nice": false, "zero": false}, "axis": null},
                              "x": {"datum": 0.159, "type": "quantitative", "scale": {"type": "log", "domain": [0.159, 8.0], "nice": false}, "axis": null}}},
                {"data": {"name": "yt5"}, "mark": {"type": "tick", "orient": "horizontal", "size": 4, "thickness": 1.6, "color": "black", "xOffset": -2},
                 "encoding": {"y": {"field": "t", "type": "quantitative", "scale": {"domain": [-0.093, 5.1], "nice": false, "zero": false}, "axis": null},
                              "x": {"datum": 8.0, "type": "quantitative", "scale": {"type": "log", "domain": [0.159, 8.0], "nice": false}, "axis": null}}},
                {"data": {"name": "ym5"}, "mark": {"type": "tick", "orient": "horizontal", "size": 8, "thickness": 1.6, "color": "black", "xOffset": -4},
                 "encoding": {"y": {"field": "t", "type": "quantitative", "scale": {"domain": [-0.093, 5.1], "nice": false, "zero": false}, "axis": null},
                              "x": {"datum": 8.0, "type": "quantitative", "scale": {"type": "log", "domain": [0.159, 8.0], "nice": false}, "axis": null}}}
              ],
              "resolve": {"axis": {"x": "independent", "y": "independent"}}
            }
          ]
        }
      ]
    }
  ],
  "config": {
    "view": {"stroke": "black", "strokeWidth": 1.5},
    "axis": {
      "grid": false, "domainColor": "black", "domainWidth": 1.5,
      "labelFont": "DejaVu Sans", "labelFontWeight": "bold", "labelColor": "black",
      "labelFlush": false, "labelOverlap": false, "labelBound": false, "titleColor": "black"
    },
    "axisX": {"titleFont": "DejaVu Sans", "titleFontSize": 15.5, "titleFontWeight": "bold", "titlePadding": 10},
    "axisY": {"titleFont": "Open Sans", "titleFontSize": 24, "titleFontWeight": "normal", "titlePadding": 5},
    "title": {"font": "Open Sans", "fontSize": 22, "fontWeight": "normal", "color": "black", "offset": -2, "anchor": "middle", "frame": "group"}
  }
}
